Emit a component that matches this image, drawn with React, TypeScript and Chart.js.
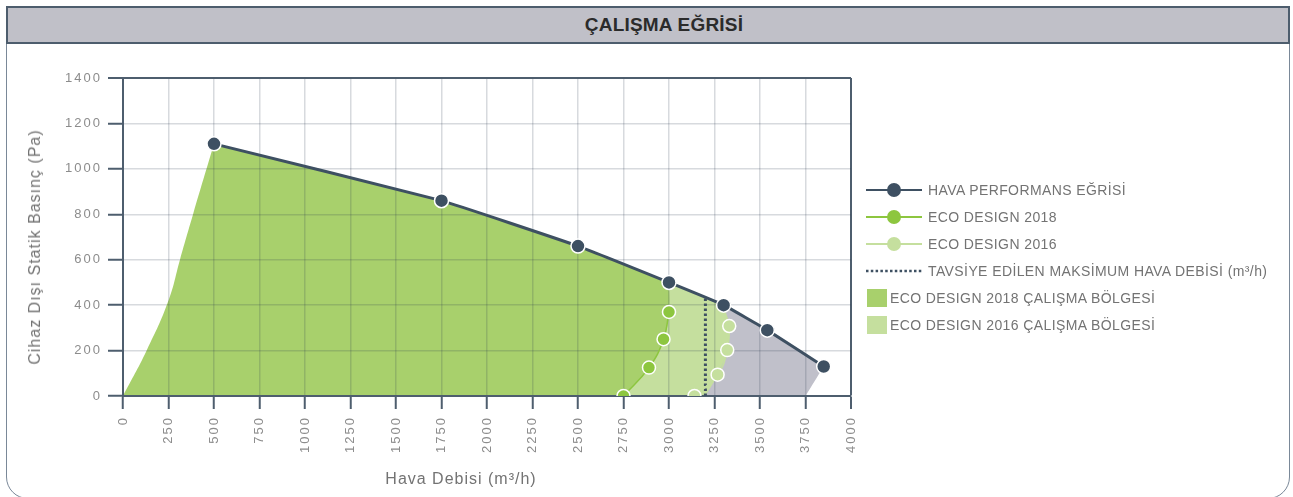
import React, { useEffect, useRef } from 'react';
import { Chart, registerables } from 'chart.js';

Chart.register(...registerables);

// ---------- data ----------
const X_MIN = 0;
const X_MAX = 4000;
const X_STEP = 250;
const Y_MIN = 0;
const Y_MAX = 1400;
const Y_STEP = 200;

// Hava performans eğrisi (m3/h, Pa)
const perfFlow = [500, 1750, 2500, 3000, 3300, 3540, 3850];
const perfPressure = [1110, 860, 660, 500, 400, 290, 130];

// ECO DESIGN 2018 points
const eco2018Flow = [2750, 2890, 2970, 3000];
const eco2018Pressure = [0, 125, 250, 370];

// ECO DESIGN 2016 points
const eco2016Flow = [3140, 3267, 3320, 3331];
const eco2016Pressure = [0, 94, 202, 308];

// rising left edge of the working zone
const riseFlow = [0, 130, 250, 313, 385];
const risePressure = [0, 200, 420, 600, 800];

// recommended maximum air flow (dotted line)
const maxFlow = 3200;
const maxFlowTopPressure = 433;

// end of the grey zone on the flow axis
const greyZoneEndFlow = 3750;

const legendLabels = [
  'HAVA PERFORMANS EĞRİSİ',
  'ECO DESIGN 2018',
  'ECO DESIGN 2016',
  'TAVSİYE EDİLEN MAKSİMUM HAVA DEBİSİ (m³/h)',
  'ECO DESIGN 2018 ÇALIŞMA BÖLGESİ',
  'ECO DESIGN 2016 ÇALIŞMA BÖLGESİ',
];

const titleText = 'ÇALIŞMA EĞRİSİ';
const xTitle = 'Hava Debisi (m³/h)';
const yTitle = 'Cihaz Dışı Statik Basınç (Pa)';

// ---------- styles ----------
const NAVY = '#3e5062';
const GREEN = '#8dc63f';
const GREEN_LIGHT = '#c5df9e';
const ZONE_2018 = '#a8d06c';
const ZONE_2016 = '#c5df9e';
const ZONE_GREY = '#c0c0ca';
const AXIS_DARK = '#4e5e6e';
const GRID_LIGHT = 'rgba(45,58,80,0.19)';
const TICK_COLOR = '#8c8c8c';
const TEXT_COLOR = '#737373';
const FONT = "'Liberation Sans', Arial, sans-serif";

type P = { x: number; y: number };
const pts = (xs: number[], ys: number[]): P[] => xs.map((x, i) => ({ x, y: ys[i] }));
// a repeated point gives a sharp corner in the spline
const sharp = (p: P): P[] => [p, { x: p.x, y: p.y }];

const perf = pts(perfFlow, perfPressure);
const e18 = pts(eco2018Flow, eco2018Pressure);
const e16 = pts(eco2016Flow, eco2016Pressure);
const rise = pts(riseFlow, risePressure);

const zone2018: P[] = [
  ...rise,
  ...sharp(perf[0]),
  ...sharp(perf[1]),
  ...sharp(perf[2]),
  ...sharp(perf[3]),
  ...e18.slice().reverse(),
];

const zone2016: P[] = [
  { x: perf[2].x, y: 0 },
  ...sharp(perf[2]),
  ...sharp(perf[3]),
  ...sharp(perf[4]),
  e16[3],
  e16[2],
  e16[1],
  { x: maxFlow, y: 0 },
];

const zoneGrey: P[] = [
  { x: perf[3].x, y: 0 },
  ...sharp(perf[3]),
  ...sharp(perf[4]),
  ...sharp(perf[5]),
  ...sharp(perf[6]),
  { x: greyZoneEndFlow, y: 0 },
];

const spacingPlugin = {
  id: 'letterSpacing',
  beforeDraw(chart: any) {
    try {
      (chart.ctx as any).letterSpacing = '2px';
    } catch (e) {}
  },
};

function LegendSymbol({ kind, color }: { kind: string; color: string }) {
  if (kind === 'box') {
    return (
      <svg width={60} height={20} style={{ display: 'block' }}>
        <rect x={3} y={1} width={20} height={18} fill={color} />
      </svg>
    );
  }
  if (kind === 'dots') {
    return (
      <svg width={60} height={20} style={{ display: 'block' }}>
        <line x1={2} y1={10} x2={58} y2={10} stroke={color} strokeWidth={2.5} strokeDasharray="2.5 2.3" />
      </svg>
    );
  }
  return (
    <svg width={60} height={20} style={{ display: 'block' }}>
      <line x1={2} y1={10} x2={58} y2={10} stroke={color} strokeWidth={2} />
      <circle cx={30} cy={10} r={7} fill={color} />
    </svg>
  );
}

const legendKinds = ['lineDot', 'lineDot', 'lineDot', 'dots', 'box', 'box'];
const legendColors = [NAVY, GREEN, GREEN_LIGHT, NAVY, ZONE_2018, ZONE_2016];

export default function App() {
  const ref = useRef<HTMLCanvasElement>(null);

  useEffect(() => {
    if (!ref.current) return;
    const fillDs = (data: P[], color: string, order: number) => ({
      data,
      fill: 'shape',
      backgroundColor: color,
      borderColor: 'transparent',
      borderWidth: 0,
      pointRadius: 0,
      tension: 0.45,
      order,
    });
    const chart = new Chart(ref.current, {
      type: 'line',
      data: {
        datasets: [
          fillDs(zoneGrey, ZONE_GREY, 10) as any,
          fillDs(zone2016, ZONE_2016, 9) as any,
          fillDs(zone2018, ZONE_2018, 8) as any,
          {
            data: [
              { x: maxFlow, y: 0 },
              { x: maxFlow, y: maxFlowTopPressure },
            ],
            borderColor: NAVY,
            borderWidth: 3,
            borderDash: [2.5, 2.5],
            pointRadius: 0,
            fill: false,
            order: 4,
          },
          {
            data: e16,
            borderColor: GREEN_LIGHT,
            borderWidth: 1.5,
            tension: 0.45,
            pointRadius: 6.5,
            pointBackgroundColor: GREEN_LIGHT,
            pointBorderColor: '#ffffff',
            pointBorderWidth: 1.5,
            fill: false,
            order: 3,
          },
          {
            data: e18,
            borderColor: GREEN,
            borderWidth: 1.5,
            tension: 0.45,
            pointRadius: 6.5,
            pointBackgroundColor: GREEN,
            pointBorderColor: '#ffffff',
            pointBorderWidth: 1.5,
            fill: false,
            order: 2,
          },
          {
            data: perf,
            borderColor: NAVY,
            borderWidth: 3,
            tension: 0.1,
            pointRadius: 7,
            pointBackgroundColor: NAVY,
            pointBorderColor: '#ffffff',
            pointBorderWidth: 1.5,
            fill: false,
            order: 1,
          },
        ],
      },
      options: {
        responsive: false,
        animation: false,
        events: [],
        layout: { padding: { left: 63, right: 442, top: 78, bottom: 0 } },
        plugins: {
          legend: { display: false },
          tooltip: { enabled: false },
          filler: { drawTime: 'beforeDraw' },
        } as any,
        scales: {
          x: {
            type: 'linear',
            min: X_MIN,
            max: X_MAX,
            afterFit: (s: any) => {
              s.height = 101;
            },
            ticks: {
              stepSize: X_STEP,
              autoSkip: false,
              maxRotation: 90,
              minRotation: 90,
              padding: 7,
              color: TICK_COLOR,
              font: { family: FONT, size: 13 },
              callback: (v: any) => String(v),
            },
            grid: {
              color: (c: any) => (c.tick && c.tick.value === X_MAX ? AXIS_DARK : GRID_LIGHT),
              lineWidth: (c: any) => (c.tick && c.tick.value === X_MAX ? 2 : 1.5),
              tickColor: AXIS_DARK,
              tickLength: 13,
              tickWidth: 2,
            },
            border: { color: AXIS_DARK, width: 2 },
          },
          y: {
            min: Y_MIN,
            max: Y_MAX,
            afterFit: (s: any) => {
              s.width = 60;
            },
            ticks: {
              stepSize: Y_STEP,
              padding: 6,
              color: TICK_COLOR,
              font: { family: FONT, size: 13 },
              callback: (v: any) => String(v),
            },
            grid: {
              color: (c: any) => (c.tick && c.tick.value === Y_MAX ? AXIS_DARK : GRID_LIGHT),
              lineWidth: (c: any) => (c.tick && c.tick.value === Y_MAX ? 2 : 1.5),
              tickColor: AXIS_DARK,
              tickLength: 15,
              tickWidth: 2,
            },
            border: { color: AXIS_DARK, width: 2 },
          },
        },
      } as any,
      plugins: [spacingPlugin],
    });
    return () => chart.destroy();
  }, []);

  return (
    <div style={{ position: 'fixed', left: 0, top: 0, width: 1293, height: 497, overflow: 'hidden', background: '#fff' }}>
      <div
        style={{
          position: 'absolute',
          left: 6,
          top: 6,
          width: 1284,
          height: 493,
          boxSizing: 'border-box',
          border: '1.5px solid #7a8898',
          borderRadius: '0 0 22px 22px',
        }}
      />
      <div
        style={{
          position: 'absolute',
          left: 6,
          top: 6,
          width: 1284,
          height: 38,
          boxSizing: 'border-box',
          background: '#c0c0c8',
          border: '2px solid #4d5d6d',
          display: 'flex',
          alignItems: 'center',
          justifyContent: 'center',
          paddingLeft: 32,
          fontFamily: FONT,
          fontWeight: 'bold',
          fontSize: 19,
          letterSpacing: 0.2,
          color: '#2b2b2b',
        }}
      >
        {titleText}
      </div>
      <canvas ref={ref} width={1293} height={497} style={{ position: 'absolute', left: 0, top: 0 }} />
      <div
        style={{
          position: 'absolute',
          left: 35,
          top: 247,
          transform: 'translate(-50%, -50%) rotate(-90deg)',
          whiteSpace: 'nowrap',
          fontFamily: FONT,
          fontSize: 16,
          letterSpacing: 1,
          color: TEXT_COLOR,
        }}
      >
        {yTitle}
      </div>
      <div
        style={{
          position: 'absolute',
          left: 461,
          top: 479,
          transform: 'translate(-50%, -50%)',
          whiteSpace: 'nowrap',
          fontFamily: FONT,
          fontSize: 16,
          letterSpacing: 1,
          color: TEXT_COLOR,
        }}
      >
        {xTitle}
      </div>
      {legendLabels.map((label, i) => {
        const kind = legendKinds[i];
        const box = kind === 'box';
        return (
          <div
            key={label}
            style={{
              position: 'absolute',
              left: 864,
              top: 190 + i * 27 - 10,
              height: 20,
              display: 'flex',
              alignItems: 'center',
              whiteSpace: 'nowrap',
            }}
          >
            <div style={{ width: box ? 26 : 64, height: 20, overflow: 'hidden' }}>
              <LegendSymbol kind={kind} color={legendColors[i]} />
            </div>
            <span style={{ fontFamily: FONT, fontSize: 14, letterSpacing: 0.4, color: TEXT_COLOR, lineHeight: '20px' }}>
              {label}
            </span>
          </div>
        );
      })}
    </div>
  );
}
